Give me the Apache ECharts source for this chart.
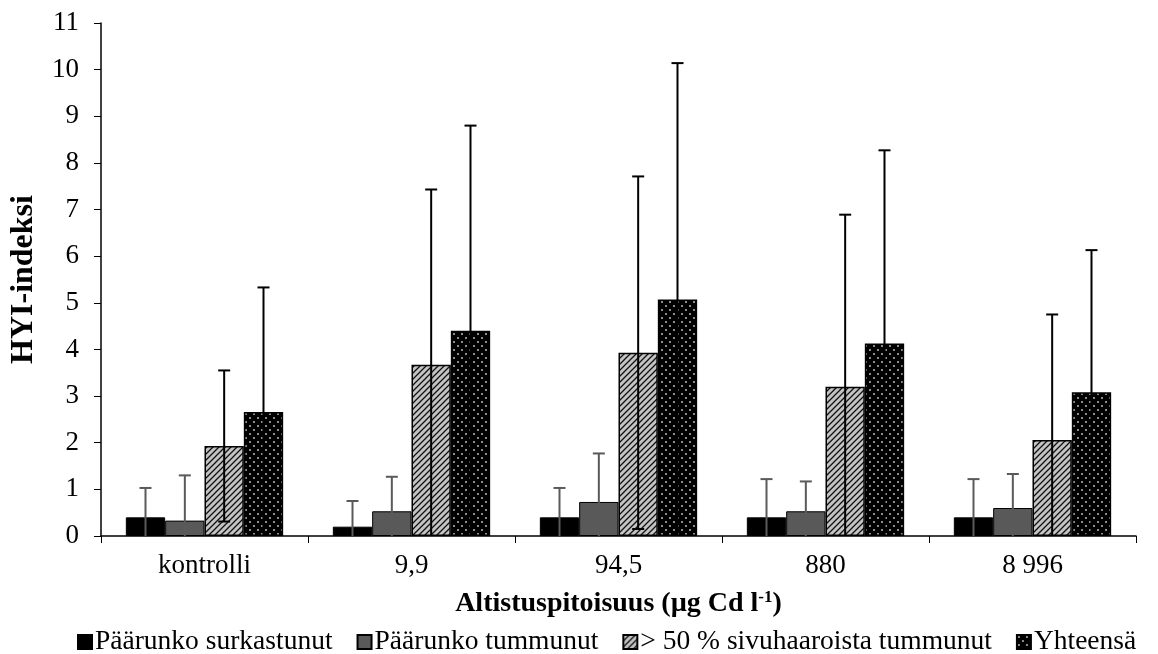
<!DOCTYPE html>
<html>
<head>
<meta charset="utf-8">
<script src="https://cdn.jsdelivr.net/npm/echarts@6/dist/echarts.min.js"></script>
<style>
  html, body { margin: 0; padding: 0; background: #fff; }
  #chart { width: 1158px; height: 654px; }
</style>
</head>
<body>
<div id="chart"></div>
<script>
const categories = ['kontrolli', '9,9', '94,5', '880', '8 996']
const seriesNames = ['Päärunko surkastunut', 'Päärunko tummunut', '> 50 % sivuhaaroista tummunut', 'Yhteensä']

const surkastunut = [0.4, 0.2, 0.4, 0.4, 0.4]
const surkastunutErr = [0.63, 0.55, 0.63, 0.82, 0.82]
const tummunut = [0.33, 0.53, 0.73, 0.53, 0.6]
const tummunutErr = [0.97, 0.74, 1.04, 0.64, 0.73]
const sivuhaarat = [1.93, 3.67, 3.93, 3.2, 2.06]
const sivuhaaratErr = [1.62, 3.76, 3.78, 3.69, 2.69]
const yhteensa = [2.66, 4.4, 5.07, 4.13, 3.08]
const yhteensaErr = [2.67, 4.4, 5.07, 4.14, 3.05]

const FONT = 'Liberation Serif'
const GAP = 0.24

// kuviot: vinoviivoitus ja pisteet
function hatchPattern() {
  const c = document.createElement('canvas')
  c.width = 6; c.height = 6
  const g = c.getContext('2d')
  g.fillStyle = '#c4c4c4'
  g.fillRect(0, 0, 6, 6)
  g.strokeStyle = '#111'
  g.lineWidth = 1.3
  g.beginPath()
  g.moveTo(-1, 7); g.lineTo(7, -1)
  g.moveTo(-4, 4); g.lineTo(4, -4)
  g.moveTo(2, 10); g.lineTo(10, 2)
  g.stroke()
  return c
}

function dotPattern() {
  const c = document.createElement('canvas')
  c.width = 8; c.height = 8
  const g = c.getContext('2d')
  g.fillStyle = '#000'
  g.fillRect(0, 0, 8, 8)
  g.fillStyle = '#8c8c8c'
  g.fillRect(1, 1, 2, 2)
  g.fillRect(5, 5, 2, 2)
  return c
}

function errorSeries(idx, values, errs, color) {
  return {
    type: 'custom',
    name: 'err' + idx,
    silent: true,
    z: 10,
    encode: { x: 0, y: 1 },
    data: values.map((v, k) => [k, v, errs[k]]),
    renderItem: (params, api) => {
      const k = api.value(0)
      const v = api.value(1)
      const e = api.value(2)
      const band = api.size([1, 0])[0]
      const bw = band * (1 - GAP) / 4
      const x = api.coord([k, 0])[0] + (idx - 1.5) * bw
      const lo = Math.max(0, v - e)
      const yTop = api.coord([k, v + e])[1]
      const yBot = api.coord([k, lo])[1]
      const style = { stroke: color, lineWidth: 2 }
      const children = [
        { type: 'line', shape: { x1: x, y1: yBot, x2: x, y2: yTop }, style },
        { type: 'line', shape: { x1: x - 6, y1: yTop, x2: x + 6, y2: yTop }, style }
      ]
      if (v - e > 0) {
        children.push({ type: 'line', shape: { x1: x - 6, y1: yBot, x2: x + 6, y2: yBot }, style })
      }
      return { type: 'group', children }
    }
  }
}

const chart = echarts.init(document.getElementById('chart'))

const barBase = {
  type: 'bar',
  barGap: '0%',
  barCategoryGap: (GAP * 100) + '%'
}

chart.setOption({
  animation: false,
  textStyle: { fontFamily: FONT, color: '#000' },
  grid: { left: 101, right: 22, top: 23, bottom: 118 },
  legend: {
    data: seriesNames,
    left: 72,
    top: 623,
    icon: 'rect',
    itemWidth: 14,
    itemHeight: 14,
    itemGap: 24,
    textStyle: { fontFamily: FONT, fontSize: 27.5, color: '#000', padding: [0, 0, 0, -2] }
  },
  xAxis: {
    type: 'category',
    data: categories,
    axisLine: { lineStyle: { color: '#000', width: 1.5 } },
    axisTick: { show: true, length: 7, lineStyle: { color: '#000' } },
    axisLabel: { fontFamily: FONT, fontSize: 27, color: '#000', margin: 16 },
    name: 'Altistuspitoisuus (µg Cd l{sup|-1})',
    nameLocation: 'middle',
    nameGap: 53,
    nameTextStyle: {
      fontFamily: FONT, fontSize: 28, fontWeight: 'bold', color: '#000',
      rich: {
        sup: { fontFamily: FONT, fontSize: 17, fontWeight: 'bold', color: '#000', padding: [0, 0, 12, 0] }
      }
    }
  },
  yAxis: {
    type: 'value',
    min: 0,
    max: 11,
    interval: 1,
    splitLine: { show: false },
    axisLine: { show: true, lineStyle: { color: '#000', width: 1.5 } },
    axisTick: { show: true, length: 7, lineStyle: { color: '#000' } },
    axisLabel: { fontFamily: FONT, fontSize: 27, color: '#000', margin: 22 },
    name: 'HYI-indeksi',
    nameLocation: 'middle',
    nameGap: 61,
    nameTextStyle: { fontFamily: FONT, fontSize: 32, fontWeight: 'bold', color: '#000' }
  },
  series: [
    { ...barBase, name: seriesNames[0], data: surkastunut,
      itemStyle: { color: '#000', borderColor: '#000', borderWidth: 1 } },
    { ...barBase, name: seriesNames[1], data: tummunut,
      itemStyle: { color: '#595959', borderColor: '#000', borderWidth: 1 } },
    { ...barBase, name: seriesNames[2], data: sivuhaarat,
      itemStyle: { color: { image: hatchPattern(), repeat: 'repeat' }, borderColor: '#000', borderWidth: 1.5 } },
    { ...barBase, name: seriesNames[3], data: yhteensa,
      itemStyle: { color: { image: dotPattern(), repeat: 'repeat' }, borderColor: '#000', borderWidth: 1.5 } },
    errorSeries(0, surkastunut, surkastunutErr, '#5a5a5a'),
    errorSeries(1, tummunut, tummunutErr, '#5a5a5a'),
    errorSeries(2, sivuhaarat, sivuhaaratErr, '#000'),
    errorSeries(3, yhteensa, yhteensaErr, '#000')
  ]
})
</script>
</body>
</html>
